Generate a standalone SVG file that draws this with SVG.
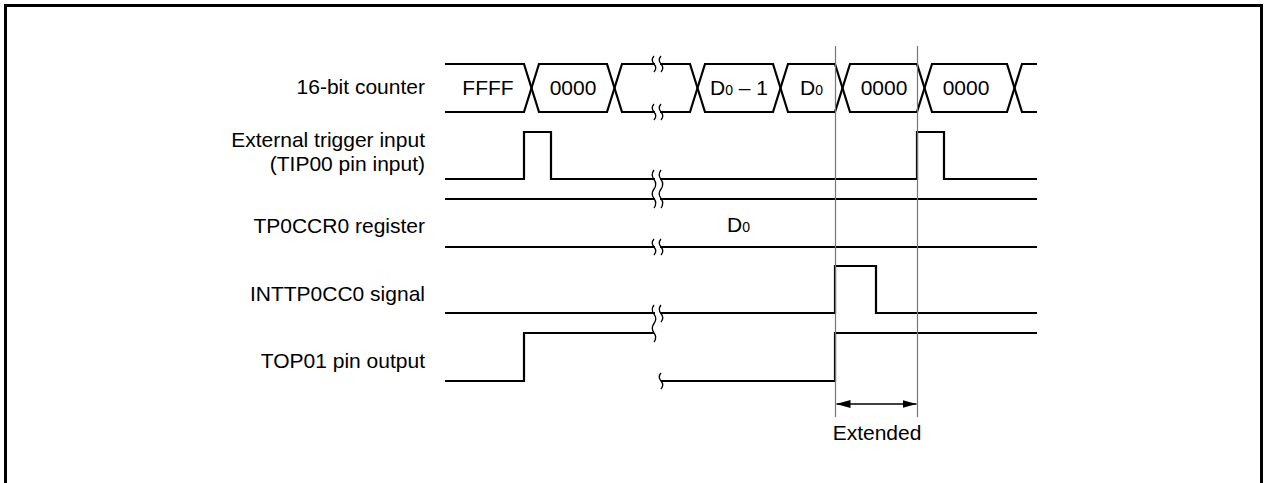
<svg xmlns="http://www.w3.org/2000/svg" width="1265" height="483" viewBox="0 0 1265 483">
<style>
text{font-family:"Liberation Sans",Arial,sans-serif;font-size:21px;fill:#000}
.lbl{text-anchor:end}
.mid{text-anchor:middle}
.sig{fill:none;stroke:#000;stroke-width:2.2;stroke-linejoin:miter}
.brk{fill:none;stroke:#000;stroke-width:1.3}
.gap{fill:#fff;stroke:none}
.guide{stroke:#777;stroke-width:1.2;fill:none}
.sub{font-size:14px}
</style>
<defs>
<marker id="ah" viewBox="0 0 14 8" refX="14" refY="4" markerWidth="14" markerHeight="8" markerUnits="userSpaceOnUse" orient="auto-start-reverse">
<path d="M0,0 L14,4 L0,8 Z" fill="#000"/>
</marker>
<path id="b16" d="M0,-8 Q-3.5,-4 0,0 Q3.5,4 0,8"/>
</defs>
<rect x="0" y="0" width="1265" height="483" fill="#fff"/>
<path d="M5.5,483 V5.5 H1261.5 V483" fill="none" stroke="#000" stroke-width="3"/>

<g id="labels">
<text class="lbl" x="425" y="94">16-bit counter</text>
<text class="lbl" x="425" y="147">External trigger input</text>
<text class="lbl" x="425" y="171">(TIP00 pin input)</text>
<text class="lbl" x="425" y="233">TP0CCR0 register</text>
<text class="lbl" x="425" y="301">INTTP0CC0 signal</text>
<text class="lbl" x="425" y="368">TOP01 pin output</text>
</g>

<g id="counter">
<path class="sig" d="M445,64 H524 L539,112 H607 L622,64 H690 L705,112 H773 L788,64 H835 L850,112 H917 L932,64 H1007 L1022,112 H1037"/>
<path class="sig" d="M445,112 H524 L539,64 H607 L622,112 H690 L705,64 H773 L788,112 H835 L850,64 H917 L932,112 H1007 L1022,64 H1037"/>
<text class="mid" x="488" y="95">FFFF</text>
<text class="mid" x="573" y="95">0000</text>
<text x="710" y="95">D<tspan class="sub">0</tspan> – 1</text>
<text x="800" y="95">D<tspan class="sub">0</tspan></text>
<text class="mid" x="884" y="95">0000</text>
<text class="mid" x="966" y="95">0000</text>
</g>

<g id="ext-trigger">
<path class="sig" d="M445,179 H524 V132 H551 V179 H917 V132 H944 V179 H1037"/>
</g>

<g id="tp0ccr0">
<path class="sig" d="M445,199 H1037"/>
<path class="sig" d="M445,247 H1037"/>
<text x="727" y="232">D<tspan class="sub">0</tspan></text>
</g>

<g id="inttp0cc0">
<path class="sig" d="M445,313 H835 V266 H876 V313 H1037"/>
</g>

<g id="top01">
<path class="sig" d="M445,381 H524 V333 H654"/>
<path class="sig" d="M661,381 H835 V333 H1037"/>
</g>

<g id="breaks">
<rect class="gap" x="655" y="55" width="5" height="18"/>
<rect class="gap" x="655" y="103" width="5" height="18"/>
<rect class="gap" x="655" y="170" width="5" height="38"/>
<rect class="gap" x="655" y="239" width="5" height="16"/>
<rect class="gap" x="655" y="305" width="5" height="17"/>
<use href="#b16" class="brk" x="654" y="64"/>
<use href="#b16" class="brk" x="661" y="64"/>
<use href="#b16" class="brk" x="654" y="112"/>
<use href="#b16" class="brk" x="661" y="112"/>
<path class="brk" d="M654,170 Q650.5,174.75 654,179.5 Q657.5,184.25 654,189 Q650.5,193.75 654,198.5 Q657.5,203.25 654,208"/>
<path class="brk" d="M661,170 Q657.5,174.75 661,179.5 Q664.5,184.25 661,189 Q657.5,193.75 661,198.5 Q664.5,203.25 661,208"/>
<use href="#b16" class="brk" x="654" y="247"/>
<use href="#b16" class="brk" x="661" y="247"/>
<path class="brk" d="M654,305 Q650.5,309.6 654,314.2 Q657.5,318.8 654,323.5 Q650.5,328.1 654,332.8 Q657.5,337.4 654,342"/>
<path class="brk" d="M661,305 Q657.5,309.3 661,313.5 Q664.5,317.8 661,322"/>
<path class="brk" d="M661,373 Q657.5,377 661,381 Q664.5,385 661,389"/>
</g>

<g id="connectors">
<line class="guide" x1="835.5" y1="46" x2="835.5" y2="417"/>
<line class="guide" x1="917.5" y1="46" x2="917.5" y2="417"/>
<line x1="836.5" y1="404" x2="916.5" y2="404" stroke="#000" stroke-width="1.3" marker-start="url(#ah)" marker-end="url(#ah)"/>
</g>

<g id="extended-label">
<text class="mid" x="877" y="440">Extended</text>
</g>
</svg>
